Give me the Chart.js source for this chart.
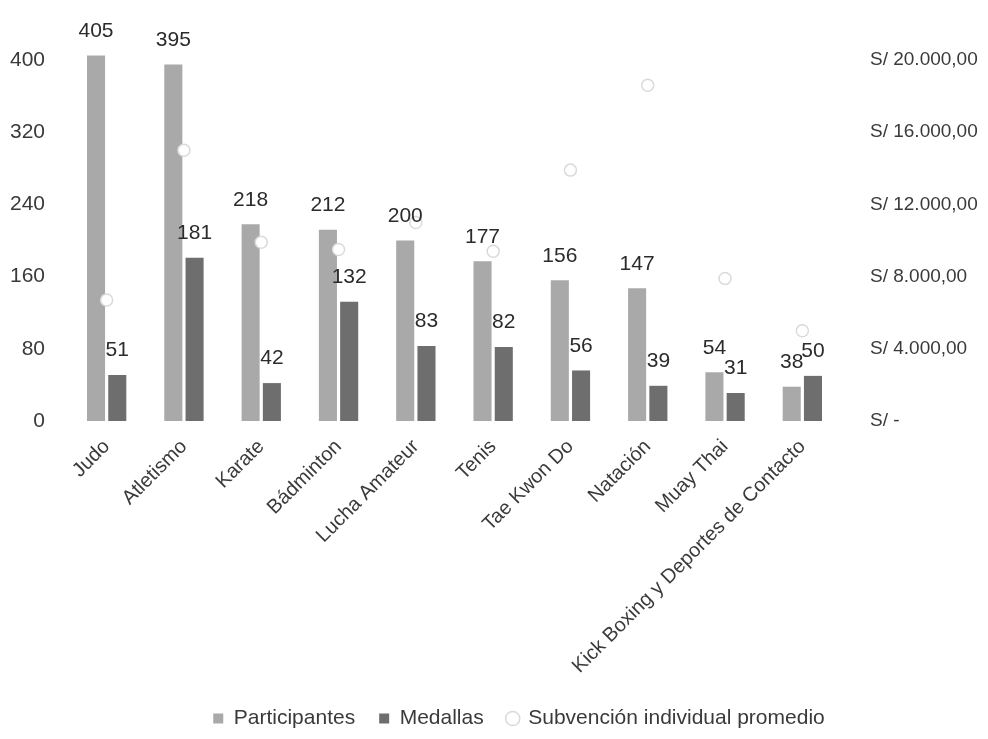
<!DOCTYPE html>
<html>
<head>
<meta charset="utf-8">
<style>
  html, body { margin: 0; padding: 0; background: #fff; }
  .chart-container { width: 988px; height: 739px; }
</style>
</head>
<body>
<div class="chart-container">
    <canvas id="disciplinasChart" width="988" height="739"></canvas>
</div>

<script src="https://cdn.jsdelivr.net/npm/chart.js"></script>
<script>
    // datos
    const disciplinas = ['Judo', 'Atletismo', 'Karate', 'Bádminton', 'Lucha Amateur', 'Tenis',
        'Tae Kwon Do', 'Natación', 'Muay Thai', 'Kick Boxing y Deportes de Contacto'];
    const participantes = [405, 395, 218, 212, 200, 177, 156, 147, 54, 38];
    const medallas = [51, 181, 42, 132, 83, 82, 56, 39, 31, 50];
    const subvencion = [6700, 15000, 9900, 9500, 11000, 9400, 13900, 18600, 7900, 5000];

    const ejeIzqTicks = [0, 80, 160, 240, 320, 400];
    const ejeDerTicks = [0, 4000, 8000, 12000, 16000, 20000];

    const familia = "'Liberation Sans', Arial, sans-serif";

    function formatoSoles(v) {
        if (v === 0) return 'S/ -';
        return 'S/ ' + v.toLocaleString('de-DE', { minimumFractionDigits: 2, maximumFractionDigits: 2 });
    }

    // etiquetas de valor encima de las barras
    const etiquetasBarras = {
        id: 'etiquetasBarras',
        afterDatasetsDraw(chart) {
            const ctx = chart.ctx;
            ctx.save();
            ctx.font = "21px " + familia;
            ctx.fillStyle = '#2b2b2b';
            ctx.textAlign = 'center';
            ctx.textBaseline = 'bottom';
            [0, 1].forEach(i => {
                const meta = chart.getDatasetMeta(i);
                meta.data.forEach((bar, j) => {
                    ctx.fillText(chart.data.datasets[i].data[j], bar.x, bar.y - 14);
                });
            });
            ctx.restore();
        }
    };

    Chart.defaults.font.family = familia;
    Chart.defaults.font.size = 20;
    Chart.defaults.color = '#3a3a3a';

    new Chart(document.getElementById('disciplinasChart').getContext('2d'), {
        type: 'bar',
        data: {
            labels: disciplinas,
            datasets: [
                {
                    label: 'Participantes',
                    data: participantes,
                    backgroundColor: '#a9a9a9',
                    categoryPercentage: 0.55,
                    barPercentage: 0.85,
                    yAxisID: 'y',
                    pointStyle: 'rect',
                    clip: false,
                    order: 1
                },
                {
                    label: 'Medallas',
                    data: medallas,
                    backgroundColor: '#6e6e6e',
                    categoryPercentage: 0.55,
                    barPercentage: 0.85,
                    yAxisID: 'y',
                    pointStyle: 'rect',
                    clip: false,
                    order: 1
                },
                {
                    type: 'line',
                    label: 'Subvención individual promedio',
                    data: subvencion,
                    showLine: false,
                    yAxisID: 'y1',
                    pointStyle: 'circle',
                    pointRadius: 6,
                    pointBackgroundColor: '#ffffff',
                    pointBorderColor: '#dadada',
                    pointBorderWidth: 1.5,
                    backgroundColor: '#ffffff',
                    borderColor: '#dadada',
                    order: 0
                }
            ]
        },
        options: {
            responsive: false,
            animation: false,
            // relleno derecho negativo: centra la leyenda algo más a la derecha, como en el original
            layout: { padding: { top: 60, bottom: 0, left: 0, right: -50 } },
            scales: {
                x: {
                    grid: { display: false },
                    border: { display: false },
                    ticks: { minRotation: 45, maxRotation: 45, autoSkip: false, padding: 6, font: { size: 20 } },
                    afterFit(scale) { scale.height = 263; }
                },
                y: {
                    position: 'left',
                    min: 0,
                    max: 400,
                    grid: { display: false },
                    border: { display: false },
                    afterBuildTicks(scale) { scale.ticks = ejeIzqTicks.map(v => ({ value: v })); },
                    ticks: { padding: 15, font: { size: 21 } },
                    afterFit(scale) { scale.width = 68; }
                },
                y1: {
                    position: 'right',
                    min: 0,
                    max: 20000,
                    grid: { display: false },
                    border: { display: false },
                    afterBuildTicks(scale) { scale.ticks = ejeDerTicks.map(v => ({ value: v })); },
                    ticks: { padding: 21, font: { size: 19 }, callback: v => formatoSoles(v) },
                    afterFit(scale) { scale.width = 197; }
                }
            },
            plugins: {
                legend: {
                    display: true,
                    position: 'bottom',
                    labels: {
                        usePointStyle: true,
                        boxWidth: 10,
                        boxHeight: 10,
                        padding: 24,
                        font: { size: 21 },
                        sort: (a, b) => a.datasetIndex - b.datasetIndex
                    }
                },
                tooltip: { enabled: false }
            }
        },
        plugins: [etiquetasBarras]
    });
</script>
</body>
</html>
